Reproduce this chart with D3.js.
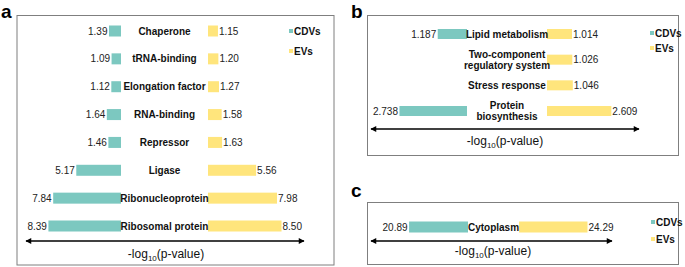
<!DOCTYPE html>
<html>
<head>
<meta charset="utf-8">
<script src="https://cdn.jsdelivr.net/npm/d3@7"></script>
<style>
  body { margin: 0; background: #fff; }
  text { font-family: "Liberation Sans", Arial, sans-serif; }
</style>
</head>
<body>
<div id="chart"></div>
<script>
// panel a
var aCategories = ["Chaperone", "tRNA-binding", "Elongation factor", "RNA-binding",
    "Repressor", "Ligase", "Ribonucleoprotein", "Ribosomal protein"];
var aCdv = [1.39, 1.09, 1.12, 1.64, 1.46, 5.17, 7.84, 8.39];
var aEv = [1.15, 1.20, 1.27, 1.58, 1.63, 5.56, 7.98, 8.50];
var aCdvLabels = ["1.39", "1.09", "1.12", "1.64", "1.46", "5.17", "7.84", "8.39"];
var aEvLabels = ["1.15", "1.20", "1.27", "1.58", "1.63", "5.56", "7.98", "8.50"];

// panel b
var bCategories = ["Lipid metabolism", "Two-component\nregulatory system", "Stress response", "Protein\nbiosynthesis"];
var bCdv = [1.187, null, null, 2.738];
var bEv = [1.014, 1.026, 1.046, 2.609];
var bCdvLabels = ["1.187", "", "", "2.738"];
var bEvLabels = ["1.014", "1.026", "1.046", "2.609"];

// panel c
var cCategories = ["Cytoplasm"];
var cCdv = [20.89];
var cEv = [24.29];
var cCdvLabels = ["20.89"];
var cEvLabels = ["24.29"];

var seriesNames = ["CDVs", "EVs"];
var colCdv = "#7cc8c0", colEv = "#ffe57c";

var svg = d3.select("#chart").append("svg")
    .attr("width", 685)
    .attr("height", 267);

svg.append("defs").append("marker")
    .attr("id", "arrowhead")
    .attr("viewBox", "0 0 10 10")
    .attr("refX", 9).attr("refY", 5)
    .attr("markerWidth", 6).attr("markerHeight", 4.5)
    .attr("orient", "auto-start-reverse")
    .append("path")
    .attr("d", "M0,0 L10,5 L0,10 z")
    .attr("fill", "#000");

function drawPanel(p) {
    var g = svg.append("g");

    g.append("rect")
        .attr("x", p.box[0]).attr("y", p.box[1])
        .attr("width", p.box[2]).attr("height", p.box[3])
        .attr("fill", "none")
        .attr("stroke", "#7f7f7f")
        .attr("stroke-width", 1);

    g.append("text")
        .attr("x", p.letterPos[0]).attr("y", p.letterPos[1])
        .attr("font-weight", "bold")
        .style("font-size", "19px")
        .text(p.letter);

    var x = d3.scaleLinear().domain([0, p.maxVal]).range([0, p.barSpan]);
    var y = d3.scalePoint().domain(p.categories).range(p.yRange);

    var rows = p.categories.map(function (c, i) {
        return { cat: c, cdv: p.cdv[i], ev: p.ev[i], cdvLab: p.cdvLabels[i], evLab: p.evLabels[i] };
    });

    var cdvRows = rows.filter(function (d) { return d.cdv != null; });

    g.selectAll(".cdvBar").data(cdvRows).enter().append("rect")
        .attr("x", function (d) { return p.cdvRight - x(d.cdv); })
        .attr("y", function (d) { return y(d.cat) - p.barH / 2; })
        .attr("width", function (d) { return x(d.cdv); })
        .attr("height", p.barH)
        .attr("fill", colCdv);

    g.selectAll(".cdvLab").data(cdvRows).enter().append("text")
        .attr("x", function (d) { return p.cdvRight - x(d.cdv) - 1.5; })
        .attr("y", function (d) { return y(d.cat) + 3.5; })
        .attr("text-anchor", "end")
        .style("font-size", "10px")
        .attr("fill", "#222")
        .text(function (d) { return d.cdvLab; });

    g.selectAll(".evBar").data(rows).enter().append("rect")
        .attr("x", p.evLeft)
        .attr("y", function (d) { return y(d.cat) - p.barH / 2; })
        .attr("width", function (d) { return x(d.ev); })
        .attr("height", p.barH)
        .attr("fill", colEv);

    g.selectAll(".evLab").data(rows).enter().append("text")
        .attr("x", function (d) { return p.evLeft + x(d.ev) + 1; })
        .attr("y", function (d) { return y(d.cat) + 3.5; })
        .style("font-size", "10px")
        .attr("fill", "#222")
        .text(function (d) { return d.evLab; });

    var mid = (p.cdvRight + p.evLeft) / 2;
    g.selectAll(".catLab").data(rows).enter().append("text")
        .attr("x", mid)
        .attr("y", function (d) {
            var n = d.cat.split("\n").length;
            return y(d.cat) + 3.5 - (n - 1) * 5.5;
        })
        .attr("text-anchor", "middle")
        .attr("font-weight", "bold")
        .style("font-size", "10px")
        .attr("fill", "#111")
        .each(function (d) {
            var t = d3.select(this);
            d.cat.split("\n").forEach(function (line, i) {
                t.append("tspan").attr("x", mid).attr("dy", i === 0 ? 0 : 11).text(line);
            });
        });

    // double-headed arrow
    g.append("line")
        .attr("x1", p.arrow[0]).attr("x2", p.arrow[1])
        .attr("y1", p.arrow[2]).attr("y2", p.arrow[2])
        .attr("stroke", "#000")
        .attr("stroke-width", 1.3)
        .attr("marker-start", "url(#arrowhead)")
        .attr("marker-end", "url(#arrowhead)");

    var lab = g.append("text")
        .attr("x", p.axisLab[0]).attr("y", p.axisLab[1])
        .attr("text-anchor", "middle")
        .style("font-size", "12px")
        .attr("fill", "#111");
    lab.append("tspan").text("-log");
    lab.append("tspan").attr("dy", 3).style("font-size", "8px").text("10");
    lab.append("tspan").attr("dy", -3).text("(p-value)");

    // legend
    var leg = g.selectAll(".leg").data(seriesNames).enter().append("g")
        .attr("transform", function (d, i) {
            return "translate(" + p.legend[0] + "," + (p.legend[1] + i * p.legend[2]) + ")";
        });
    leg.append("rect")
        .attr("x", 0).attr("y", -2).attr("width", 4).attr("height", 4)
        .attr("fill", function (d, i) { return i === 0 ? colCdv : colEv; });
    leg.append("text")
        .attr("x", 5).attr("y", 3.5)
        .attr("font-weight", "bold")
        .style("font-size", "10px")
        .attr("fill", "#111")
        .text(function (d) { return d; });
}

drawPanel({
    letter: "a", letterPos: [1, 18], box: [17, 15.5, 317, 249.5],
    categories: aCategories, cdv: aCdv, ev: aEv, cdvLabels: aCdvLabels, evLabels: aEvLabels,
    maxVal: 10, barSpan: 86.5, cdvRight: 121, evLeft: 208, barH: 11, yRange: [31, 226],
    arrow: [26, 304, 241], axisLab: [166, 258], legend: [289, 31, 20]
});

drawPanel({
    letter: "b", letterPos: [351, 18], box: [367.5, 15.5, 311, 140],
    categories: bCategories, cdv: bCdv, ev: bEv, cdvLabels: bCdvLabels, evLabels: bEvLabels,
    maxVal: 3, barSpan: 74, cdvRight: 467, evLeft: 547, barH: 10, yRange: [34, 111],
    arrow: [371, 639, 129], axisLab: [505, 145], legend: [650, 33, 15]
});

drawPanel({
    letter: "c", letterPos: [351, 197], box: [367.5, 202.5, 311, 62],
    categories: cCategories, cdv: cCdv, ev: cEv, cdvLabels: cCdvLabels, evLabels: cEvLabels,
    maxVal: 25, barSpan: 70.5, cdvRight: 468, evLeft: 519, barH: 11, yRange: [227, 227],
    arrow: [371, 612, 241], axisLab: [493, 255], legend: [651, 222, 17]
});
</script>
</body>
</html>
